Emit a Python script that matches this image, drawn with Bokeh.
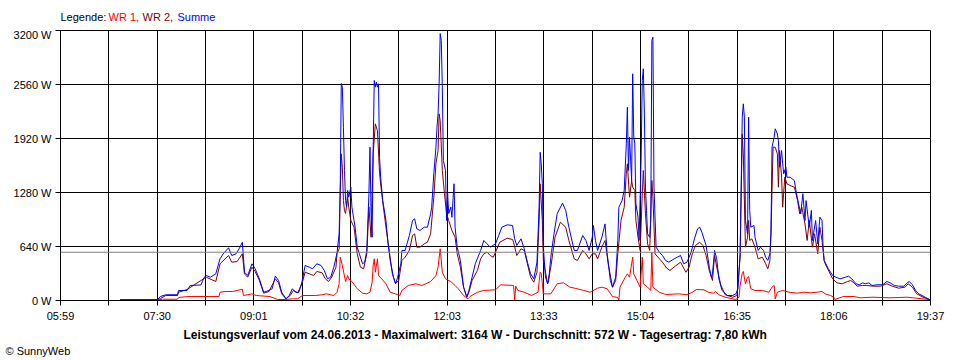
from bokeh.plotting import figure
from bokeh.models import FixedTicker, Span, Range1d, ColumnDataSource, Title
from bokeh.layouts import column
from bokeh.core.properties import value
from bokeh.embed import file_html
from bokeh.resources import INLINE

# ---------------- data ----------------
day_start = "05:59"
day_end = "19:37"
x_tick_labels = ["05:59", "07:30", "09:01", "10:32", "12:03", "13:33", "15:04", "16:35", "18:06", "19:37"]
y_ticks = [0, 640, 1280, 1920, 2560, 3200]

legend_parts = ["Legende:", "WR 1,", "WR 2,", "Summe"]
max_w = 3164
avg_w = 572
yield_kwh = "7,80"
date_str = "24.06.2013"
copyright_text = "\u00a9 SunnyWeb"

# Summe (minutes since midnight, W)
summe_t = [415, 450, 453, 458, 469, 470, 478, 481, 491, 494, 496, 500, 505, 509, 512, 517, 520, 524, 527, 530,
           532, 535, 539, 542, 546, 550, 555, 558, 561, 564, 567, 571, 574, 577, 580, 583, 586, 589, 593, 596,
           600, 604, 607, 610, 613, 616, 619, 621, 622, 623, 624, 625, 626, 627, 628, 629, 630, 632, 633, 635,
           636, 638, 640, 643, 645, 647, 649, 650, 651, 652, 653, 654, 655, 656, 657, 658, 659, 660, 662, 665,
           667, 669, 672, 674, 676, 679, 680, 683, 687, 690, 692, 694, 697, 701, 704, 707, 708, 710, 712, 713,
           714, 715, 716, 717, 718, 719, 721, 722, 723, 724, 726, 727, 729, 730, 732, 735, 738, 741, 743, 746,
           749, 754, 757, 760, 763, 768, 771, 774, 779, 784, 786, 788, 792, 795, 798, 801, 804, 807, 809, 810,
           811, 812, 813, 815, 817, 818, 820, 823, 826, 831, 834, 837, 842, 845, 850, 853, 856, 859, 860, 862,
           864, 868, 871, 873, 876, 878, 881, 883, 884, 887, 889, 891, 892, 893, 894, 896, 897, 898, 899, 900,
           902, 903, 905, 906, 907, 908, 909, 910, 911, 913, 914, 915, 916, 917, 919, 922, 925, 928, 931, 936,
           939, 942, 945, 948, 952, 955, 958, 960, 962, 966, 969, 971, 972, 974, 976, 978, 981, 986, 991, 994,
           996, 998, 1000, 1001, 1002, 1003, 1005, 1006, 1007, 1008, 1011, 1012, 1015, 1017, 1020, 1022, 1024,
           1026, 1027, 1028, 1030, 1031, 1033, 1034, 1035, 1037, 1038, 1039, 1041, 1042, 1045, 1049, 1051, 1053,
           1055, 1057, 1059, 1060, 1063, 1065, 1066, 1069, 1071, 1073, 1075, 1076, 1077, 1081, 1085, 1088, 1092,
           1097, 1100, 1103, 1107, 1110, 1113, 1116, 1119, 1122, 1127, 1132, 1136, 1139, 1143, 1147, 1152, 1155,
           1157, 1160, 1163, 1166, 1169, 1172, 1176, 1177]
summe_w = [10, 10, 47, 68, 68, 119, 119, 178, 184, 273, 296, 276, 316, 494, 553, 625, 533, 553, 613, 691,
           335, 296, 435, 376, 257, 98, 119, 139, 290, 237, 98, 20, 59, 139, 98, 95, 217, 415, 395, 376,
           435, 415, 356, 257, 276, 395, 563, 794, 1304, 2572, 2528, 2054, 1541, 1185, 1106, 1304, 1224, 1343, 1106, 948,
           869, 632, 553, 435, 454, 593, 1268, 1817, 1031, 750, 1817, 2607, 2528, 2587, 2528, 2568, 1698, 1461, 1185, 948,
           676, 474, 276, 198, 276, 435, 593, 593, 770, 948, 968, 850, 830, 869, 869, 1028, 1106, 1505, 1817, 2054,
           2212, 2572, 3164, 3081, 2528, 1659, 1541, 948, 1268, 1031, 1106, 986, 1383, 869, 632, 474, 158, 39, 119, 276,
           435, 593, 711, 672, 632, 672, 770, 869, 897, 889, 731, 652, 731, 613, 454, 316, 257, 454, 1106, 1757,
           1624, 1383, 632, 276, 198, 237, 513, 790, 1028, 1154, 1067, 869, 593, 593, 770, 711, 593, 750, 889, 711,
           593, 750, 908, 553, 237, 158, 276, 711, 1106, 1185, 1304, 1857, 2291, 1541, 1936, 1422, 2687, 1936, 1857, 1146,
           988, 711, 1738, 2607, 2746, 2212, 1343, 1067, 790, 750, 948, 3081, 3120, 1343, 632, 573, 533, 474, 454, 494,
           513, 533, 435, 454, 573, 731, 850, 869, 810, 652, 395, 276, 316, 593, 494, 257, 119, 59, 59, 79,
           139, 553, 2173, 2331, 2173, 948, 790, 2173, 1067, 869, 889, 750, 593, 632, 593, 513, 474,
           553, 790, 1817, 1936, 2035, 1975, 1896, 1580, 1778, 1620, 1501, 1580, 1461, 1461, 1422, 1265, 1146,
           1027, 1265, 948, 1185, 869, 1067, 711, 948, 672, 988, 948, 632, 474, 376, 296, 276, 257,
           276, 288, 257, 198, 186, 209, 198, 209, 178, 186, 186, 225, 209, 178, 170, 170, 209,
           225, 186, 119, 79, 59, 39, 12, 5]

# WR 2 (dark red)
wr2_t = [415, 450, 453, 458, 469, 470, 478, 491, 496, 505, 509, 517, 520, 525, 530, 532, 535, 539, 542, 546,
         550, 555, 561, 564, 567, 571, 575, 578, 582, 586, 589, 593, 597, 600, 605, 608, 611, 614, 618, 619,
         621, 622, 623, 624, 625, 626, 627, 629, 630, 632, 635, 638, 641, 644, 647, 649, 651, 653, 655, 657,
         659, 661, 665, 668, 671, 674, 677, 680, 683, 687, 690, 692, 694, 697, 701, 704, 707, 710, 712, 714,
         715, 716, 718, 720, 722, 724, 727, 730, 732, 735, 738, 741, 743, 746, 751, 754, 757, 760, 763, 766,
         772, 779, 784, 785, 788, 792, 795, 798, 801, 804, 807, 809, 810, 812, 813, 817, 820, 824, 829, 834,
         837, 842, 845, 850, 853, 856, 859, 862, 864, 868, 871, 874, 878, 881, 883, 886, 889, 891, 892, 894,
         896, 897, 899, 900, 902, 904, 906, 907, 909, 911, 913, 915, 916, 918, 925, 929, 932, 937, 942, 947,
         950, 953, 956, 960, 963, 966, 969, 972, 974, 976, 980, 984, 991, 995, 998, 1000, 1001, 1003, 1005, 1006,
         1007, 1009, 1012, 1015, 1019, 1022, 1024, 1026, 1027, 1029, 1031, 1033, 1034, 1035, 1037, 1038, 1040,
         1042, 1045, 1049, 1052, 1054, 1056, 1059, 1061, 1063, 1066, 1068, 1071, 1073, 1075, 1077, 1078, 1085,
         1089, 1094, 1099, 1102, 1105, 1108, 1113, 1117, 1123, 1130, 1136, 1141, 1147, 1153, 1156, 1160, 1164,
         1170, 1176, 1177]
wr2_w = [5, 5, 24, 59, 59, 98, 130, 237, 276, 225, 435, 533, 454, 462, 553, 316, 276, 395, 344, 237,
         87, 107, 257, 210, 79, 20, 59, 119, 91, 198, 335, 316, 296, 344, 328, 257, 225, 276, 395, 557,
         613, 1304, 1738, 1580, 1185, 1067, 1031, 1221, 1106, 948, 869, 553, 395, 376, 553, 1106, 750, 1742, 2094, 2015,
         1505, 1268, 869, 593, 320, 201, 237, 474, 513, 593, 770, 790, 632, 632, 672, 691, 790, 1224, 1624, 1778,
         2212, 2133, 1541, 1268, 1031, 948, 830, 750, 553, 395, 158, 39, 98, 237, 356, 494, 553, 573, 533, 513,
         691, 738, 723, 691, 533, 613, 593, 435, 276, 217, 335, 948, 1383, 948, 474, 198, 395, 750, 928, 869,
         711, 494, 474, 593, 553, 494, 553, 553, 494, 632, 711, 435, 158, 237, 553, 948, 1106, 1501, 1620, 1224,
         1422, 1343, 1304, 948, 750, 593, 1265, 1541, 1028, 672, 593, 1422, 1224, 553, 454, 383, 356, 407, 454, 335,
         395, 553, 652, 691, 652, 533, 356, 237, 533, 395, 178, 68, 39, 59, 513, 1975, 1738, 632, 750, 948,
         711, 731, 632, 494, 513, 435, 376, 474, 790, 1817, 1817, 1738, 1343, 1778, 1461, 1106, 1461,
         1383, 1363, 1343, 1185, 1028, 1106, 909, 711, 948, 632, 790, 553, 869, 711, 474, 435, 257,
         210, 198, 225, 237, 210, 170, 178, 178, 170, 170, 198, 170, 146, 158, 198, 158, 79,
         39, 12, 5]

# WR 1 (red)
wr1_t = [415, 450, 455, 469, 470, 479, 508, 509, 514, 521, 530, 531, 539, 543, 556, 563, 571, 577, 582, 585,
         587, 599, 605, 609, 616, 619, 621, 622, 624, 627, 629, 630, 633, 638, 643, 647, 650, 652, 653, 654,
         655, 657, 658, 661, 665, 669, 674, 678, 680, 686, 693, 699, 707, 712, 714, 716, 718, 721, 726, 730,
         733, 738, 742, 744, 751, 757, 768, 773, 785, 786, 787, 789, 795, 802, 808, 810, 811, 813, 820, 826,
         832, 838, 845, 851, 857, 864, 868, 873, 878, 883, 884, 885, 890, 892, 894, 897, 898, 901, 904, 906,
         907, 911, 914, 915, 916, 922, 928, 940, 948, 953, 957, 964, 968, 973, 975, 978, 984, 994, 997, 998,
         1000, 1001, 1003, 1005, 1006, 1008, 1012, 1019, 1025, 1028, 1030, 1031, 1033, 1038, 1044, 1052, 1058,
         1064, 1070, 1075, 1078, 1083, 1086, 1087, 1095, 1105, 1111, 1123, 1139, 1155, 1164, 1176, 1177]
wr1_w = [5, 5, 15, 15, 36, 47, 47, 98, 107, 107, 134, 59, 79, 59, 47, 12, 12, 20, 20, 47,
         59, 59, 68, 79, 59, 98, 201, 513, 415, 225, 296, 257, 225, 139, 87, 79, 98, 217, 415, 494,
         335, 494, 296, 257, 198, 98, 79, 59, 119, 178, 198, 178, 225, 296, 395, 613, 335, 257, 225, 178,
         139, 59, 20, 47, 98, 119, 127, 186, 178, 0, 170, 119, 98, 59, 98, 335, 320, 79, 79, 198,
         210, 158, 139, 119, 98, 146, 158, 139, 47, 36, 0, 158, 276, 316, 276, 513, 316, 237, 158, 513,
         198, 158, 119, 573, 158, 98, 71, 79, 68, 98, 130, 127, 98, 87, 107, 68, 39, 12, 39, 178,
         320, 344, 198, 276, 284, 139, 119, 119, 98, 158, 178, 20, 98, 119, 98, 87, 98,
         91, 98, 107, 79, 59, 39, 12, 47, 47, 32, 39, 32, 39, 27, 12, 5]


def hm(s):
    h, m = s.split(":")
    return int(h) * 60 + int(m)


x0, x1 = hm(day_start), hm(day_end)
n_int = 2 * (len(x_tick_labels) - 1)
x_ticks = [round(x0 + i * (x1 - x0) / n_int, 3) for i in range(n_int + 1)]
x_over = {}
for i, t in enumerate(x_ticks):
    x_over[t] = x_tick_labels[i // 2] if i % 2 == 0 else ""

FONT = "Liberation Sans"
BL, BR = 60, 30          # left / right borders -> plot frame spans 60..930 px
FW = 870

# ---- header with coloured legend (frame aligned with chart frame; data units = pixels) ----
header = figure(frame_width=FW, frame_height=28, x_range=Range1d(BL, BL + FW), y_range=Range1d(28, 0),
                output_backend="svg", toolbar_location=None,
                x_axis_location=None, y_axis_location=None,
                min_border_left=BL, min_border_right=BR, min_border_top=0, min_border_bottom=0,
                background_fill_color="white", border_fill_color="white")
header.grid.visible = False
header.outline_line_color = None
hsrc = ColumnDataSource(dict(x=[60, 108, 142, 177], y=[16, 16, 16, 16], text=legend_parts,
                             color=["black", "#FF0000", "#800000", "#0000FF"]))
header.text(x="x", y="y", text="text", text_color="color", source=hsrc,
            text_font=value(FONT), text_font_size="11px", text_baseline="middle", text_align="left")

# ---- main chart ----
p = figure(frame_width=FW, frame_height=270, output_backend="svg", toolbar_location=None,
           x_range=Range1d(x0, x1), y_range=Range1d(y_ticks[0], y_ticks[-1]),
           min_border_left=BL, min_border_right=BR, min_border_top=2, min_border_bottom=60,
           background_fill_color="white", border_fill_color="white")
p.outline_line_color = "black"
p.outline_line_width = 1

for ax in (p.xaxis[0], p.yaxis[0]):
    ax.axis_line_color = "black"
    ax.major_tick_line_color = "black"
    ax.major_tick_out = 5
    ax.major_tick_in = 0
    ax.minor_tick_line_color = None
    ax.major_label_text_font = FONT
    ax.major_label_text_font_size = "11px"
    ax.major_label_text_color = "black"
    ax.major_label_standoff = 4

p.xaxis[0].ticker = FixedTicker(ticks=x_ticks)
p.xaxis[0].major_label_overrides = x_over
p.yaxis[0].ticker = FixedTicker(ticks=y_ticks)
p.yaxis[0].major_label_overrides = {v: f"{v} W" for v in y_ticks}

p.xgrid[0].ticker = FixedTicker(ticks=x_ticks)
p.ygrid[0].ticker = FixedTicker(ticks=y_ticks)
for g in (p.xgrid[0], p.ygrid[0]):
    g.grid_line_color = "black"
    g.grid_line_width = 1
    g.grid_line_alpha = 1

p.add_layout(Span(location=avg_w, dimension="width", line_color="#808080", line_width=1))

p.line(wr1_t, wr1_w, line_color="#FF0000", line_width=1)
p.line(wr2_t, wr2_w, line_color="#800000", line_width=1)
p.line(summe_t, summe_w, line_color="#0000FF", line_width=1)

# ---- summary line and copyright below the axis ----
summary = (f"Leistungsverlauf vom {date_str} - Maximalwert: {max_w} W - "
           f"Durchschnitt: {avg_w} W - Tagesertrag: {yield_kwh} kWh")
p.add_layout(Title(text=summary, align="left", offset=123, standoff=2, text_font=FONT,
                   text_font_size="12px", text_font_style="bold", text_color="black"), "below")
p.add_layout(Title(text=copyright_text, align="left", offset=-55, standoff=0, text_font=FONT,
                   text_font_size="11px", text_font_style="normal", text_color="black"), "below")

layout = column(header, p, spacing=0)
open("out.html", "w").write(file_html(layout, INLINE))
